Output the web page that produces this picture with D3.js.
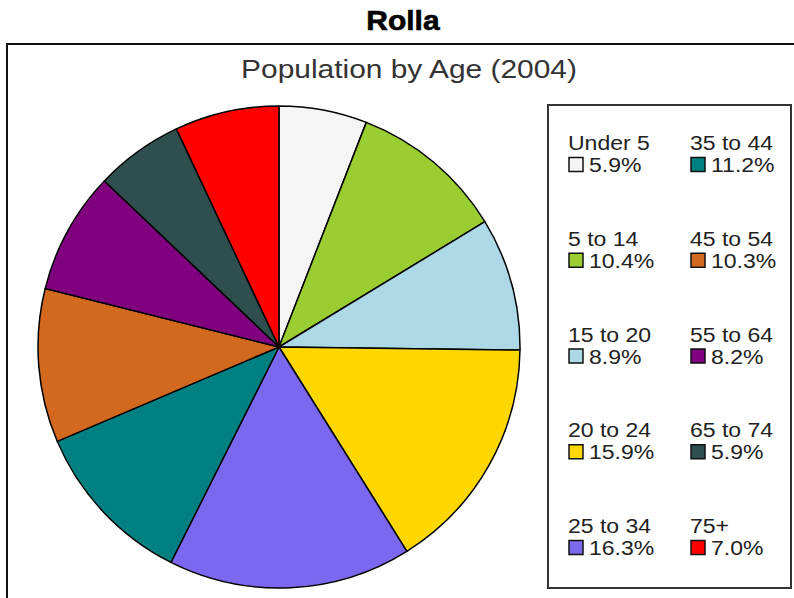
<!DOCTYPE html>
<html>
<head>
<meta charset="utf-8">
<script src="https://cdn.jsdelivr.net/npm/d3@7"></script>
<style>
  body { margin: 0; background: #fff; }
  text { font-family: "Liberation Sans", Arial, sans-serif; }
</style>
</head>
<body>
<div id="chart"></div>
<script>
// data
const ageGroups = ["Under 5", "5 to 14", "15 to 20", "20 to 24", "25 to 34",
                   "35 to 44", "45 to 54", "55 to 64", "65 to 74", "75+"];
const percents = [5.9, 10.4, 8.9, 15.9, 16.3, 11.2, 10.3, 8.2, 5.9, 7.0];
const sliceColors = ["#f5f5f5", "#9acd32", "#add8e6", "#ffd700", "#7b68ee",
                     "#008080", "#d2691e", "#800080", "#2f4f4f", "#ff0000"];

const data = ageGroups.map((g, i) => ({ group: g, pct: percents[i] }));

/** CONSTANTS */
const width = 794, height = 598;
const cx = 279, cy = 347, radius = 241;
const stretch = 1.15; // the source text is drawn a bit wide

const svg = d3.select("#chart")
  .append("svg")
  .attr("width", width)
  .attr("height", height);

// widen a text selection horizontally
function widen(sel, k) {
  sel.each(function () {
    const w = this.getComputedTextLength();
    d3.select(this)
      .attr("textLength", w * k)
      .attr("lengthAdjust", "spacingAndGlyphs");
  });
}

// main title
svg.append("text")
  .attr("x", 403)
  .attr("y", 30)
  .attr("text-anchor", "middle")
  .attr("font-size", 28)
  .attr("font-weight", "bold")
  .attr("fill", "#000")
  .attr("stroke", "#000")
  .attr("stroke-width", 0.6)
  .text("Rolla")
  .call(widen, 1.07);

// outer frame (runs off the right and bottom of the picture)
svg.append("rect")
  .attr("x", 7)
  .attr("y", 44)
  .attr("width", 820)
  .attr("height", 600)
  .attr("fill", "#fff")
  .attr("stroke", "#111")
  .attr("stroke-width", 2);

// chart title
svg.append("text")
  .attr("x", 409)
  .attr("y", 78)
  .attr("text-anchor", "middle")
  .attr("font-size", 26)
  .attr("fill", "#333")
  .text("Population by Age (2004)")
  .call(widen, stretch);

/** PIE */
const pie = d3.pie()
  .sort(null)
  .value(d => d.pct);

const arc = d3.arc()
  .innerRadius(0)
  .outerRadius(radius);

const color = d3.scaleOrdinal()
  .domain(ageGroups)
  .range(sliceColors);

svg.append("g")
  .attr("transform", `translate(${cx},${cy})`)
  .selectAll("path")
  .data(pie(data))
  .join("path")
  .attr("d", arc)
  .attr("fill", d => color(d.data.group))
  .attr("stroke", "#000")
  .attr("stroke-width", 1.5)
  .attr("stroke-linejoin", "round");

/** LEGEND */
const legend = svg.append("g");

legend.append("rect")
  .attr("x", 548)
  .attr("y", 105)
  .attr("width", 243)
  .attr("height", 483)
  .attr("fill", "#fff")
  .attr("stroke", "#333")
  .attr("stroke-width", 2);

const colX = d3.scaleOrdinal().domain([0, 1]).range([568, 690]);
const rowY = d3.scaleLinear().domain([0, 4]).range([150, 533]);

const item = legend.selectAll("g.item")
  .data(data)
  .join("g")
  .attr("class", "item")
  .attr("transform", (d, i) => `translate(${colX(Math.floor(i / 5))},${rowY(i % 5)})`);

item.append("text")
  .attr("x", 0)
  .attr("y", 0)
  .attr("font-size", 20)
  .attr("fill", "#222")
  .text(d => d.group)
  .call(widen, stretch);

item.append("rect")
  .attr("x", 1)
  .attr("y", 7.5)
  .attr("width", 14)
  .attr("height", 14)
  .attr("fill", d => color(d.group))
  .attr("stroke", "#111")
  .attr("stroke-width", 1.5);

item.append("text")
  .attr("x", 21)
  .attr("y", 22)
  .attr("font-size", 20)
  .attr("fill", "#222")
  .text(d => d.pct.toFixed(1) + "%")
  .call(widen, stretch);
</script>
</body>
</html>
